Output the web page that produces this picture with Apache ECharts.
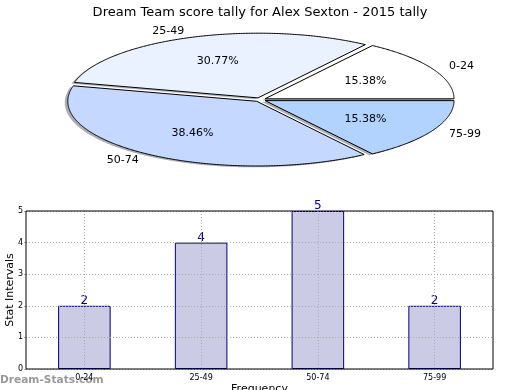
<!DOCTYPE html>
<html>
<head>
<meta charset="utf-8">
<script src="https://cdn.jsdelivr.net/npm/echarts@6/dist/echarts.min.js"></script>
<style>
html,body{margin:0;padding:0;background:#fff;}
#chart{width:520px;height:390px;}
</style>
</head>
<body>
<div id="chart"></div>
<script>
// ---- data ----
const titleText = 'Dream Team score tally for Alex Sexton - 2015 tally';
const categories = ['0-24', '25-49', '50-74', '75-99'];
const counts = [2, 4, 5, 2];
const yTicks = [0, 1, 2, 3, 4, 5];
const yAxisName = 'Stat Intervals';
const xAxisName = 'Frequency';
const watermark = 'Dream-Stats.com';

// ---- styles ----
const pieColors = ['#ffffff', '#eaf1ff', '#c5d8ff', '#b3d3ff'];
const FONT = 'DejaVu Sans, Liberation Sans, sans-serif';

const chart = echarts.init(document.getElementById('chart'), null, {renderer: 'canvas'});

// elliptical pie layout (matplotlib-like, non-equal aspect)
const PIE = {cx: 260, cy: 99.7, rx: 189, ry: 64.7, explode: 0.03, shadow: 0.016, labelDist: 1.1, pctDist: 0.6};

function renderPie(params, api) {
  const i = params.dataIndex;
  const total = counts.reduce((a, b) => a + b, 0);
  let before = 0;
  for (let j = 0; j < i; j++) before += counts[j];
  const v = api.value(0);
  const t1 = before / total * 2 * Math.PI;
  const t2 = (before + v) / total * 2 * Math.PI;
  const tm = (t1 + t2) / 2;
  const ox = PIE.cx + PIE.explode * PIE.rx * Math.cos(tm);
  const oy = PIE.cy - PIE.explode * PIE.ry * Math.sin(tm);
  const pts = [[ox, oy]];
  const n = Math.max(8, Math.ceil((t2 - t1) / (Math.PI / 360)));
  for (let k = 0; k <= n; k++) {
    const t = t1 + (t2 - t1) * k / n;
    pts.push([ox + PIE.rx * Math.cos(t), oy - PIE.ry * Math.sin(t)]);
  }
  const sdx = -PIE.shadow * PIE.rx, sdy = PIE.shadow * PIE.ry * 1.3;
  const spts = pts.map(p => [p[0] + sdx, p[1] + sdy]);
  const c = echarts.color.parse(pieColors[i]);
  const shadowColor = 'rgba(' + Math.round(c[0] * 0.3) + ',' + Math.round(c[1] * 0.3) + ',' + Math.round(c[2] * 0.3) + ',0.42)';
  const lx = ox + PIE.labelDist * PIE.rx * Math.cos(tm);
  const ly = oy - PIE.labelDist * PIE.ry * Math.sin(tm);
  const px = ox + PIE.pctDist * PIE.rx * Math.cos(tm);
  const py = oy - PIE.pctDist * PIE.ry * Math.sin(tm);
  return {
    type: 'group',
    children: [
      {type: 'polygon', z2: 0, shape: {points: spts}, style: {fill: shadowColor, stroke: null}},
      {type: 'polygon', z2: 10, shape: {points: pts}, style: {fill: pieColors[i], stroke: '#000', lineWidth: 1, lineJoin: 'miter'}},
      {type: 'text', z2: 20, x: lx, y: ly, style: {text: categories[i], fill: '#000', font: '11px ' + FONT,
        align: Math.cos(tm) > 0 ? 'left' : 'right', verticalAlign: 'middle'}},
      {type: 'text', z2: 20, x: px, y: py, style: {text: (v / total * 100).toFixed(2) + '%', fill: '#000', font: '11px ' + FONT,
        align: 'center', verticalAlign: 'middle'}}
    ]
  };
}

const option = {
  backgroundColor: '#fff',
  animation: false,
  title: {
    text: titleText, left: 'center', top: 1,
    textStyle: {fontSize: 13, fontWeight: 'normal', color: '#000', fontFamily: FONT}
  },
  grid: {left: 26, right: 27, top: 211, bottom: 21, outerBoundsMode: 'none', containLabel: false,
    show: true, borderColor: '#000', borderWidth: 1, backgroundColor: 'transparent', z: 4},
  xAxis: {
    type: 'category', data: categories, z: 3,
    name: xAxisName, nameLocation: 'middle', nameGap: 15,
    nameTextStyle: {fontSize: 11, color: '#000', fontFamily: FONT},
    axisLine: {show: false},
    axisTick: {show: false},
    axisLabel: {fontSize: 8, color: '#000', margin: 5, fontFamily: FONT},
    splitLine: {show: true, alignWithLabel: true, lineStyle: {type: [1, 2], color: '#aaa', width: 1}}
  },
  yAxis: {
    type: 'value', min: yTicks[0], max: yTicks[yTicks.length - 1], interval: 1, z: 3,
    name: yAxisName, nameLocation: 'middle', nameGap: 10, nameMoveOverlap: false,
    nameTextStyle: {fontSize: 11, color: '#000', fontFamily: FONT},
    axisLine: {show: false},
    axisTick: {show: true, inside: false, length: 2, lineStyle: {color: '#aaa'}},
    axisLabel: {fontSize: 8, color: '#000', margin: 3, fontFamily: FONT},
    splitLine: {show: true, lineStyle: {type: [1, 2], color: '#aaa', width: 1}}
  },
  graphic: [{
    type: 'text', left: 0, top: 375, z: 0,
    style: {text: watermark, fill: '#9a9a9a', font: 'bold 10.6px ' + FONT}
  }],
  series: [
    {
      type: 'custom', coordinateSystem: 'none', silent: true,
      data: counts.map(v => [v]),
      renderItem: renderPie
    },
    {
      type: 'bar', data: counts, barWidth: '45%', z: 2,
      itemStyle: {color: '#cbcbe5', borderColor: '#000080', borderWidth: 1},
      label: {show: true, position: 'top', distance: 0, offset: [0, 1], color: '#000080', fontSize: 12, fontFamily: FONT}
    }
  ]
};
chart.setOption(option);
</script>
</body>
</html>
